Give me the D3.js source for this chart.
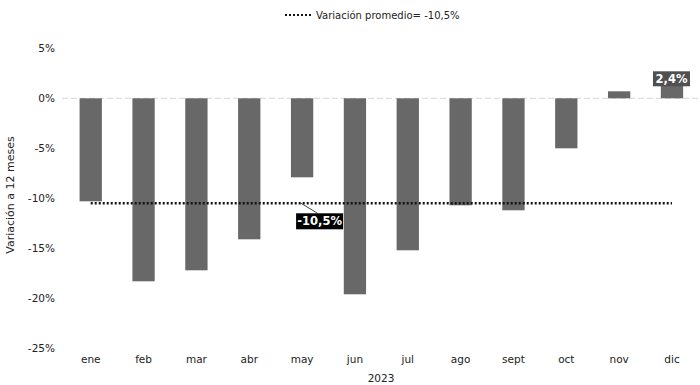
<!DOCTYPE html>
<html>
<head>
<meta charset="utf-8">
<title>Variación a 12 meses</title>
<script src="https://cdn.jsdelivr.net/npm/d3@7"></script>
<style>
  body { margin: 0; background: #fff; }
  svg { font-family: "DejaVu Sans", Verdana, sans-serif; }
</style>
</head>
<body>
<svg id="chart" width="700" height="385"></svg>
<script>
// data
const months = ["ene", "feb", "mar", "abr", "may", "jun", "jul", "ago", "sept", "oct", "nov", "dic"];
const variation = [-10.3, -18.3, -17.2, -14.1, -7.9, -19.6, -15.2, -10.7, -11.2, -5.0, 0.7, 2.4];
const average = -10.5;
const yTicks = [5, 0, -5, -10, -15, -20, -25];
const fmt = v => String(v).replace(".", ",") + "%";

const svg = d3.select("#chart");

const x = d3.scaleBand().domain(months).range([64.3, 698.4]).paddingInner(0.578).paddingOuter(0.289);
const y = d3.scaleLinear().domain([-25, 5]).range([348.3, 48.3]);

// y axis labels
svg.append("g")
  .attr("transform", "translate(55,0)")
  .call(d3.axisLeft(y).tickValues(yTicks).tickSize(0).tickPadding(0).tickFormat(d => d + "%"))
  .call(g => g.select(".domain").remove())
  .selectAll("text")
  .attr("font-size", 10.5).attr("fill", "#222").attr("font-family", "DejaVu Sans, sans-serif");

// zero line
svg.append("line")
  .attr("x1", 62).attr("x2", 700)
  .attr("y1", y(0)).attr("y2", y(0))
  .attr("stroke", "#d6d6d6").attr("stroke-width", 1)
  .attr("stroke-dasharray", "6,3");

// bars
svg.selectAll("rect.bar")
  .data(months)
  .enter().append("rect")
  .attr("class", "bar")
  .attr("x", d => x(d))
  .attr("width", x.bandwidth())
  .attr("y", (d, i) => y(Math.max(0, variation[i])))
  .attr("height", (d, i) => Math.abs(y(variation[i]) - y(0)))
  .attr("fill", "#686868");

// average line
svg.append("line")
  .attr("x1", x("ene") + x.bandwidth() / 2)
  .attr("x2", x("dic") + x.bandwidth() / 2)
  .attr("y1", y(average)).attr("y2", y(average))
  .attr("stroke", "#111").attr("stroke-width", 2.5)
  .attr("stroke-dasharray", "2,2");

// average callout
const avgX = x("may") + x.bandwidth() / 2 - 0.5;
svg.append("line")
  .attr("x1", avgX - 0.5).attr("y1", y(average))
  .attr("x2", avgX + 16).attr("y2", y(average) + 10)
  .attr("stroke", "#444").attr("stroke-width", 1);
svg.append("rect")
  .attr("x", avgX - 5.5).attr("y", y(average) + 10)
  .attr("width", 47).attr("height", 16)
  .attr("fill", "#000");
svg.append("text")
  .attr("x", avgX + 18).attr("y", y(average) + 22)
  .attr("text-anchor", "middle")
  .attr("font-size", 11.5).attr("font-weight", "bold").attr("fill", "#fff")
  .text(fmt(average));

// last value label
const dicX = x("dic") + x.bandwidth() / 2;
const dicV = variation[variation.length - 1];
svg.append("rect")
  .attr("x", dicX - 19).attr("y", y(dicV) - 3)
  .attr("width", 37).attr("height", 15)
  .attr("fill", "#505050");
svg.append("text")
  .attr("x", dicX - 0.5).attr("y", y(dicV) + 8.5)
  .attr("text-anchor", "middle")
  .attr("font-size", 11.5).attr("font-weight", "bold").attr("fill", "#fff")
  .text(fmt(dicV));

// x axis labels
svg.append("g")
  .attr("transform", "translate(0,356)")
  .call(d3.axisBottom(x).tickSize(0).tickPadding(0))
  .call(g => g.select(".domain").remove())
  .selectAll("text")
  .attr("font-size", 10.5).attr("fill", "#222").attr("font-family", "DejaVu Sans, sans-serif");

// axis titles
svg.append("text")
  .attr("x", 381).attr("y", 382)
  .attr("text-anchor", "middle")
  .attr("font-size", 10.5).attr("fill", "#222")
  .text("2023");
svg.append("text")
  .attr("transform", "translate(14,195) rotate(-90)")
  .attr("text-anchor", "middle")
  .attr("font-size", 11).attr("fill", "#222")
  .text("Variación a 12 meses");

// legend
const legend = svg.append("g").attr("transform", "translate(285,15)");
legend.append("line")
  .attr("x1", 0).attr("x2", 28).attr("y1", 0).attr("y2", 0)
  .attr("stroke", "#111").attr("stroke-width", 2)
  .attr("stroke-dasharray", "2,2");
legend.append("text")
  .attr("x", 31).attr("y", 4)
  .attr("font-size", 10).attr("fill", "#222")
  .text("Variación promedio= " + fmt(average));
</script>
</body>
</html>
